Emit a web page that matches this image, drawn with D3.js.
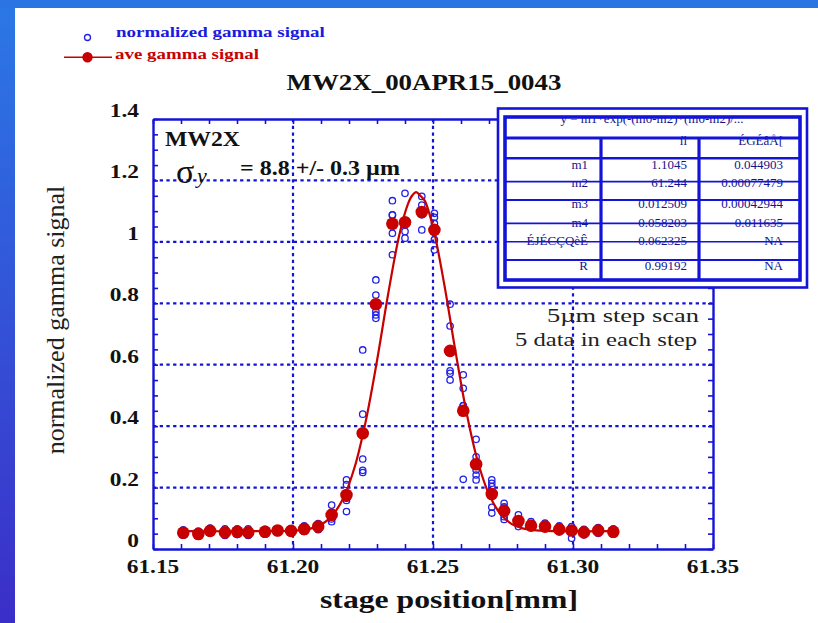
<!DOCTYPE html>
<html><head><meta charset="utf-8">
<script src="https://cdn.jsdelivr.net/npm/d3@7"></script>
<style>
body{margin:0;overflow:hidden;background:#fff}
text{font-family:"Liberation Serif","Times New Roman",serif}
</style>
</head><body>
<svg id="c" width="818" height="623"></svg>
<script>
// ---------------- data ----------------
const stepPosition = [61.1608,61.1662,61.1704,61.1757,61.1801,61.1840,61.1900,61.1945,61.1993,61.2040,61.2090,61.2138,61.2191,61.2249,61.2296,61.2355,61.2400,61.2460,61.2505,61.2561,61.2608,61.2654,61.2710,61.2754,61.2805,61.2850,61.2900,61.2951,61.2995,61.3039,61.3090,61.3144];
const aveGamma = [0.053,0.049,0.059,0.054,0.056,0.054,0.056,0.060,0.059,0.065,0.073,0.111,0.176,0.377,0.797,1.059,1.064,1.097,1.039,0.645,0.450,0.276,0.179,0.124,0.091,0.076,0.073,0.064,0.060,0.054,0.060,0.056];
const normGamma = [
 [0.062,0.056,0.052,0.050,0.045],[0.058,0.052,0.048,0.045,0.042],[0.068,0.062,0.058,0.055,0.052],
 [0.066,0.057,0.053,0.050,0.044],[0.066,0.060,0.055,0.052,0.047],[0.066,0.058,0.053,0.049,0.044],
 [0.064,0.059,0.056,0.053,0.048],[0.066,0.063,0.060,0.057,0.054],[0.066,0.062,0.059,0.056,0.052],
 [0.075,0.068,0.064,0.061,0.057],[0.083,0.077,0.073,0.069,0.063],[0.143,0.120,0.105,0.098,0.089],
 [0.225,0.210,0.165,0.158,0.122],[0.648,0.439,0.293,0.256,0.249],[0.876,0.827,0.773,0.762,0.751],
 [1.134,1.088,1.087,1.028,0.958],[1.158,1.060,1.056,1.034,1.012],[1.148,1.120,1.090,1.088,1.039],
 [1.093,1.080,1.060,1.007,0.974],[0.797,0.726,0.580,0.572,0.550],[0.567,0.523,0.467,0.466,0.227],
 [0.357,0.300,0.257,0.241,0.225],[0.225,0.214,0.203,0.136,0.117],[0.149,0.137,0.133,0.105,0.096],
 [0.111,0.095,0.090,0.086,0.073],[0.089,0.075,0.074,0.072,0.070],[0.084,0.072,0.071,0.070,0.068],
 [0.075,0.066,0.063,0.060,0.056],[0.073,0.065,0.064,0.063,0.035],[0.064,0.057,0.053,0.050,0.046],
 [0.070,0.064,0.059,0.056,0.051],[0.066,0.059,0.055,0.052,0.048]
];
const fitX = [61.160,61.190,61.200,61.205,61.210,61.214,61.218,61.222,61.226,61.230,61.234,61.238,61.241,61.2425,61.244,61.2455,61.247,61.250,61.254,61.258,61.262,61.266,61.270,61.274,61.278,61.282,61.287,61.295,61.315];
const fitY = [0.058,0.058,0.0595,0.064,0.079,0.109,0.166,0.266,0.417,0.613,0.831,1.024,1.122,1.150,1.162,1.150,1.135,1.048,0.863,0.645,0.443,0.285,0.178,0.115,0.082,0.067,0.0604,0.058,0.058];

const xTickValues = [61.15,61.20,61.25,61.30,61.35];
const xTickLabels = ["61.15","61.20","61.25","61.30","61.35"];
const yTickValues = [0,0.2,0.4,0.6,0.8,1,1.2,1.4];
const yTickLabels = ["0","0.2","0.4","0.6","0.8","1","1.2","1.4"];
const gridX = [61.20,61.25,61.30];
const gridY = [0.2,0.4,0.6,0.8,1.0,1.2];

const chartTitle = "MW2X_00APR15_0043";
const legendLabels = ["normalized gamma signal","ave gamma signal"];
const xTitle = "stage position[mm]";
const yTitle = "normalized gamma signal";

const tableFormula = "y = m1*exp(-(m0-m2)*(m0-m2)/...";
const tableHead = ["", "íl", "ÉGÉâÅ["];
const tableParams = ["m1","m2","m3","m4","ÉJÉCÇQèÊ","R"];
const tableValues = ["1.1045","61.244","0.012509","0.058203","0.062325","0.99192"];
const tableErrors = ["0.044903","0.00077479","0.00042944","0.011635","NA","NA"];

// ---------------- drawing ----------------
const svg = d3.select("#c");
const BLUE = "#1414d8", RED = "#c80000", CBLUE = "#2020e8";

// background
const defs = svg.append("defs");
const lg = defs.append("linearGradient").attr("id","bg").attr("x1",0).attr("y1",0).attr("x2",0).attr("y2",1);
lg.append("stop").attr("offset","0%").attr("stop-color","#2b78e6");
lg.append("stop").attr("offset","100%").attr("stop-color","#3b2ec8");
svg.append("rect").attr("width",818).attr("height",623).attr("fill","url(#bg)");
svg.append("rect").attr("x",0).attr("y",0).attr("width",818).attr("height",8).attr("fill","#2a74e3");
svg.append("rect").attr("x",15).attr("y",8).attr("width",803).attr("height",615).attr("fill","#fff");

function stretch(sel, w){
  sel.each(function(){
    const t=d3.select(this), L=this.getComputedTextLength(), s=w/L;
    const x=+t.attr("x"), y=+t.attr("y");
    t.attr("transform",`translate(${x},${y}) scale(${s},1) translate(${-x},${-y})`);
  });
}
function hscale(sel, s){
  sel.each(function(){
    const t=d3.select(this); const x=+t.attr("x")||0, y=+t.attr("y")||0;
    t.attr("transform",`translate(${x},${y}) scale(${s},1) translate(${-x},${-y})`);
  });
}

const L=153, R=713, T=119, B=549;
const x = d3.scaleLinear().domain([61.15,61.35]).range([L,R]);
const y = d3.scaleLinear().domain([0,1.4]).range([B,T]);

// grid
const grid = svg.append("g").attr("stroke",BLUE).attr("stroke-width",2.2).attr("stroke-dasharray","3.3,3.4");
grid.selectAll(".gx").data(gridX).join("line").attr("x1",d=>x(d)).attr("x2",d=>x(d)).attr("y1",T).attr("y2",B);
grid.selectAll(".gy").data(gridY).join("line").attr("y1",d=>y(d)).attr("y2",d=>y(d)).attr("x1",L).attr("x2",R);

// raw points
const raw = [];
normGamma.forEach((arr,i)=>arr.forEach(v=>raw.push([stepPosition[i],v])));
svg.append("g").selectAll("circle").data(raw).join("circle")
  .attr("cx",d=>x(d[0])).attr("cy",d=>y(d[1])).attr("r",3.2)
  .attr("fill","none").attr("stroke",CBLUE).attr("stroke-width",1.3);

// fit curve
const fitData = fitX.map((v,i)=>[v,fitY[i]]);
svg.append("path").datum(fitData)
  .attr("d",d3.line().x(d=>x(d[0])).y(d=>y(d[1])).curve(d3.curveCatmullRom.alpha(0.5)))
  .attr("fill","none").attr("stroke",RED).attr("stroke-width",2.2);

// average points
svg.append("g").selectAll("circle").data(aveGamma).join("circle")
  .attr("cx",(d,i)=>x(stepPosition[i])).attr("cy",d=>y(d)).attr("r",6.3).attr("fill",RED);

// axes frame and ticks
function styleAxis(g){
  g.selectAll("path.domain").attr("stroke",BLUE).attr("stroke-width",2.4);
  g.selectAll(".tick line").attr("stroke",BLUE).attr("stroke-width",1.6);
}
const xMinor = d3.range(0,21).map(i=>61.15+i*0.01);
const yMinor = d3.range(0,29).map(i=>i*0.05);
svg.append("g").attr("transform",`translate(0,${B})`)
  .call(d3.axisBottom(x).tickValues(xMinor).tickSize(-5).tickSizeOuter(0).tickFormat(""))
  .call(styleAxis);
svg.append("g").attr("transform",`translate(0,${T})`)
  .call(d3.axisTop(x).tickValues(xMinor).tickSize(-5).tickSizeOuter(0).tickFormat(""))
  .call(styleAxis);
svg.append("g").attr("transform",`translate(${L},0)`)
  .call(d3.axisLeft(y).tickValues(yMinor).tickSize(-5).tickSizeOuter(0).tickFormat(""))
  .call(styleAxis);
svg.append("g").attr("transform",`translate(${R},0)`)
  .call(d3.axisRight(y).tickValues(yMinor).tickSize(-5).tickSizeOuter(0).tickFormat(""))
  .call(styleAxis);

// tick labels
svg.append("g").selectAll("text").data(xTickValues).join("text")
  .attr("x",d=>x(d)).attr("y",573).attr("text-anchor","middle")
  .attr("font-size",18).attr("font-weight","bold").attr("fill","#111")
  .text((d,i)=>xTickLabels[i]).call(hscale,1.3);
svg.append("g").selectAll("text").data(yTickValues).join("text")
  .attr("x",139).attr("y",d=>y(d)-2).attr("text-anchor","end")
  .attr("font-size",18).attr("font-weight","bold").attr("fill","#111")
  .text((d,i)=>yTickLabels[i]).call(hscale,1.3);

// axis titles
svg.append("text").attr("x",449).attr("y",608).attr("text-anchor","middle")
  .attr("font-size",26).attr("font-weight","bold").attr("fill","#111").text(xTitle).call(stretch,258);
svg.append("text").attr("transform","translate(64,320) rotate(-90)").attr("text-anchor","middle")
  .attr("font-size",26).attr("fill","#222").text(yTitle);

// title
svg.append("text").attr("x",424).attr("y",90).attr("text-anchor","middle")
  .attr("font-size",23).attr("font-weight","bold").attr("fill","#111").text(chartTitle).call(stretch,275);

// legend
svg.append("circle").attr("cx",87.5).attr("cy",37.5).attr("r",3).attr("fill","none").attr("stroke",CBLUE).attr("stroke-width",1.3);
svg.append("text").attr("x",116).attr("y",37).attr("font-size",15.5).attr("font-weight","bold").attr("fill","#1a1ae0")
  .text(legendLabels[0]).call(stretch,209);
svg.append("line").attr("x1",64).attr("x2",112).attr("y1",57.3).attr("y2",57.3).attr("stroke",RED).attr("stroke-width",1.6);
svg.append("circle").attr("cx",87.5).attr("cy",57.3).attr("r",5.2).attr("fill",RED);
svg.append("text").attr("x",115).attr("y",59.5).attr("font-size",15.5).attr("font-weight","bold").attr("fill",RED)
  .text(legendLabels[1]).call(stretch,144);

// in-plot annotations
svg.append("text").attr("x",165).attr("y",146).attr("font-size",21).attr("font-weight","bold").attr("fill","#111")
  .text("MW2X").call(stretch,75);
svg.append("text").attr("x",176).attr("y",183).attr("font-size",34).attr("fill","#111").text("σ");
svg.append("text").attr("x",197).attr("y",183).attr("font-size",22).attr("font-style","italic").attr("fill","#111").text("y");
svg.append("text").attr("x",240).attr("y",175).attr("font-size",20).attr("font-weight","bold").attr("fill","#111")
  .text("= 8.8 +/- 0.3 µm").call(stretch,160);
svg.append("text").attr("x",699).attr("y",322).attr("text-anchor","end").attr("font-size",19).attr("fill","#222")
  .text("5µm step scan").call(stretch,152);
svg.append("text").attr("x",697).attr("y",346).attr("text-anchor","end").attr("font-size",19).attr("fill","#222")
  .text("5 data in each step").call(stretch,182);

// fit table
const tb = svg.append("g");
tb.append("rect").attr("x",498).attr("y",108.5).attr("width",309).attr("height",179).attr("fill","#fff").attr("stroke",BLUE).attr("stroke-width",2.6);
const clip = defs.append("clipPath").attr("id","tclip");
clip.append("rect").attr("x",505).attr("y",117).attr("width",295).attr("height",163);
const tt = tb.append("g").attr("clip-path","url(#tclip)").attr("font-size",13).attr("fill","#14148a");
tt.append("text").attr("x",652).attr("y",122.5).attr("text-anchor","middle").text(tableFormula);
tt.append("text").attr("x",687).attr("y",145).attr("text-anchor","end").text(tableHead[1]);
tt.append("text").attr("x",783).attr("y",145).attr("text-anchor","end").text(tableHead[2]);
const rowBase = [169,186.5,208,226.5,245,270];
tt.selectAll(".p").data(tableParams).join("text").attr("x",588).attr("y",(d,i)=>rowBase[i]).attr("text-anchor","end").text(d=>d);
tt.selectAll(".v").data(tableValues).join("text").attr("x",687).attr("y",(d,i)=>rowBase[i]).attr("text-anchor","end").text(d=>d);
tt.selectAll(".e").data(tableErrors).join("text").attr("x",783).attr("y",(d,i)=>rowBase[i]).attr("text-anchor","end").text(d=>d);
tb.append("rect").attr("x",505).attr("y",117).attr("width",295).attr("height",163).attr("fill","none").attr("stroke",BLUE).attr("stroke-width",3.6);
tb.append("line").attr("x1",505).attr("x2",800).attr("y1",138).attr("y2",138).attr("stroke",BLUE).attr("stroke-width",3.2);
[[158.3,2.6],[181.7,1.8],[200,2.2],[223.3,1.8],[241.7,1.6],[260,2.2]].forEach(([yy,w])=>{
  tb.append("line").attr("x1",505).attr("x2",800).attr("y1",yy).attr("y2",yy).attr("stroke",BLUE).attr("stroke-width",w);
});
[601,699].forEach(xx=>tb.append("line").attr("x1",xx).attr("x2",xx).attr("y1",138).attr("y2",280).attr("stroke",BLUE).attr("stroke-width",3.2));
</script>
</body></html>
